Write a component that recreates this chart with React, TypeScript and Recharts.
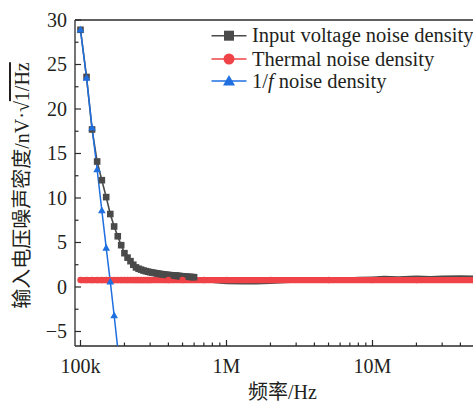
import { LineChart, Line, XAxis, YAxis, ReferenceLine, Legend, Label } from 'recharts';

const FONT = '"Liberation Serif", "Times New Roman", "Noto Sans CJK SC", serif';
const INK = '#231f20';
const AXIS = '#2a2a2a';
const GRAY = '#4a4a4a';
const RED = '#ef4347';
const BLUE = '#1f6fe0';

// axis ticks
const xMajorTicks = [1e5, 1e6, 1e7];
const xMinorTicks = [
  2e5, 3e5, 4e5, 5e5, 6e5, 7e5, 8e5, 9e5,
  2e6, 3e6, 4e6, 5e6, 6e6, 7e6, 8e6, 9e6,
  2e7, 3e7, 4e7,
];
const xTickLabels = ['100k', '1M', '10M'];
const yMajorTicks = [-5, 0, 5, 10, 15, 20, 25, 30];
const yMinorTicks = [-2.5, 2.5, 7.5, 12.5, 17.5, 22.5, 27.5];

// Input voltage noise density (nV/sqrt(Hz))
const inputFreq = [
  1e5, 1.1e5, 1.2e5, 1.3e5, 1.4e5, 1.5e5, 1.6e5, 1.7e5, 1.8e5, 1.9e5, 2e5,
  2.1e5, 2.2e5, 2.3e5, 2.4e5, 2.5e5, 2.6e5, 2.7e5, 2.8e5, 2.9e5, 3e5,
  3.1e5, 3.2e5, 3.3e5, 3.4e5, 3.5e5, 3.6e5, 3.7e5, 3.8e5, 3.9e5, 4e5,
  4.1e5, 4.2e5, 4.3e5, 4.4e5, 4.5e5, 4.6e5, 4.7e5, 4.8e5, 4.9e5, 5e5,
  5.2e5, 5.4e5, 5.6e5, 5.8e5, 6e5,
  6.5e5, 7e5, 8e5, 9e5, 1e6, 1.3e6, 1.6e6, 2e6, 2.5e6, 3e6, 4e6, 5e6,
  6e6, 7e6, 8e6, 1e7, 1.2e7, 1.5e7, 2e7, 2.5e7, 3e7, 4e7, 5e7,
];
const inputNoise = [
  28.9, 23.6, 17.7, 14.1, 12.0, 10.1, 8.2, 6.8, 5.7, 4.7, 3.8,
  3.3, 2.9, 2.5, 2.2, 2.05, 1.95, 1.85, 1.78, 1.72, 1.66,
  1.62, 1.58, 1.54, 1.5, 1.47, 1.44, 1.41, 1.38, 1.36, 1.34,
  1.33, 1.31, 1.3, 1.28, 1.27, 1.25, 1.24, 1.22, 1.21, 1.2,
  1.18, 1.16, 1.14, 1.12, 1.1,
  0.95, 0.75, 0.55, 0.45, 0.4, 0.38, 0.38, 0.42, 0.5, 0.58, 0.72, 0.85,
  0.95, 1.0, 1.05, 1.1, 1.16, 1.12, 1.19, 1.15, 1.2, 1.22, 1.2,
];

// Thermal noise density
const thermalFreq = [
  1e5, 1.1e5, 1.2e5, 1.3e5, 1.4e5, 1.5e5, 1.6e5, 1.7e5, 1.8e5, 1.9e5, 2e5,
  2.1e5, 2.2e5, 2.3e5, 2.4e5, 2.5e5, 2.6e5, 2.7e5, 2.8e5, 2.9e5, 3e5,
  4e5, 5e5, 7e5, 1e6, 2e6, 5e6, 1e7, 2e7, 5e7,
];
const thermalNoise = [
  0.78, 0.78, 0.78, 0.78, 0.78, 0.78, 0.78, 0.78, 0.78, 0.78, 0.78,
  0.78, 0.78, 0.78, 0.78, 0.78, 0.78, 0.78, 0.78, 0.78, 0.78,
  0.78, 0.78, 0.78, 0.78, 0.78, 0.78, 0.78, 0.78, 0.78,
];

// 1/f noise density
const flickerFreq = [1e5, 1.1e5, 1.2e5, 1.3e5, 1.4e5, 1.5e5, 1.6e5, 1.7e5, 1.8e5, 1.9e5];
const flickerNoise = [28.9, 23.5, 17.9, 13.2, 8.6, 4.4, 0.6, -3.2, -6.9, -10.3];

const seriesNames = ['Input voltage noise density', 'Thermal noise density', '1/f noise density'];

const toRows = (fs: number[], vs: number[]) => fs.map((f, i) => ({ f, v: vs[i] }));
const inputData = toRows(inputFreq, inputNoise);
const thermalData = toRows(thermalFreq, thermalNoise);
const flickerData = toRows(flickerFreq, flickerNoise);

const textStyle = { fontFamily: FONT, fontSize: 20, fill: INK };

function XTick({ x, y, payload }: any) {
  const idx = xMajorTicks.indexOf(payload.value);
  const major = idx >= 0;
  return (
    <g>
      <line x1={x} x2={x} y1={y} y2={y - (major ? 6 : 3.5)} stroke={AXIS} strokeWidth={1.2} />
      {major && (
        <text x={x} y={y + 27} textAnchor="middle" style={textStyle}>
          {xTickLabels[idx]}
        </text>
      )}
    </g>
  );
}

function YTick({ x, y, payload }: any) {
  const major = yMajorTicks.includes(payload.value);
  return (
    <g>
      <line x1={x} x2={x + (major ? 6 : 3.5)} y1={y} y2={y} stroke={AXIS} strokeWidth={1.2} />
      {major && (
        <text x={x - 8} y={y + 7} textAnchor="end" style={textStyle}>
          {payload.value < 0 ? `\u2212${-payload.value}` : payload.value}
        </text>
      )}
    </g>
  );
}

function squareDot(props: any) {
  const { cx, cy, index, payload } = props;
  if (payload.f > 6e5 || cx == null) return <g key={`sq-${index}`} />;
  return <rect key={`sq-${index}`} x={cx - 3.3} y={cy - 3.3} width={6.6} height={6.6} fill={GRAY} />;
}

function circleDot(props: any) {
  const { cx, cy, index } = props;
  return <circle key={`ci-${index}`} cx={cx} cy={cy} r={3.2} fill={RED} />;
}

function triangleDot(props: any) {
  const { cx, cy, index } = props;
  return (
    <path
      key={`tr-${index}`}
      d={`M${cx},${cy - 4} L${cx + 3.8},${cy + 2.8} L${cx - 3.8},${cy + 2.8} Z`}
      fill={BLUE}
    />
  );
}

function LegendMarker({ i, cx, cy }: { i: number; cx: number; cy: number }) {
  if (i === 0) return <rect x={cx - 5} y={cy - 5} width={10} height={10} fill={GRAY} />;
  if (i === 1) return <circle cx={cx} cy={cy} r={5.5} fill={RED} />;
  return <path d={`M${cx},${cy - 6} L${cx + 6},${cy + 4.5} L${cx - 6},${cy + 4.5} Z`} fill={BLUE} />;
}

function NoiseLegend() {
  const colors = [GRAY, RED, BLUE];
  const rows = [35.7, 59, 81];
  return (
    <svg width={473} height={100} style={{ display: 'block' }}>
      {rows.map((cy, i) => (
        <g key={i}>
          <line x1={211.5} x2={246.5} y1={cy} y2={cy} stroke={colors[i]} strokeWidth={1.5} />
          <LegendMarker i={i} cx={229} cy={cy} />
          <text x={252} y={cy + 6.5} style={{ ...textStyle, fontSize: 20.5 }}>
            {i === 2 ? (
              <>
                1/<tspan fontStyle="italic">f</tspan> noise density
              </>
            ) : (
              seriesNames[i]
            )}
          </text>
        </g>
      ))}
    </svg>
  );
}

function YTitle() {
  return (
    <text transform="translate(29,185.5) rotate(-90)" textAnchor="middle" style={textStyle}>
      输入电压噪声密度/nV·√<tspan style={{ textDecoration: 'overline' }}>1/Hz</tspan>
    </text>
  );
}

function XTitle() {
  return (
    <text x={282.5} y={399} textAnchor="middle" style={textStyle}>
      频率/Hz
    </text>
  );
}

export default function App() {
  return (
    <div style={{ position: 'fixed', left: 0, top: 0, width: 473, height: 401, background: '#fff' }}>
      <LineChart width={473} height={401} margin={{ top: 20, right: 0, bottom: 0, left: 0 }}>
        <XAxis
          dataKey="f"
          type="number"
          scale="log"
          domain={[91700, 48800000]}
          allowDataOverflow
          ticks={[...xMajorTicks, ...xMinorTicks]}
          interval={0}
          tick={(p: any) => <XTick {...p} />}
          tickLine={false}
          tickSize={0}
          tickMargin={0}
          height={55}
          axisLine={{ stroke: AXIS, strokeWidth: 1.3 }}
        >
          <Label content={() => <XTitle />} />
        </XAxis>
        <YAxis
          type="number"
          domain={[-6.63, 30]}
          allowDataOverflow
          ticks={[...yMajorTicks, ...yMinorTicks]}
          interval={0}
          tick={(p: any) => <YTick {...p} />}
          tickLine={false}
          tickSize={0}
          tickMargin={0}
          width={75}
          axisLine={{ stroke: AXIS, strokeWidth: 1.3 }}
        >
          <Label content={() => <YTitle />} />
        </YAxis>
        <ReferenceLine y={30} stroke={AXIS} strokeWidth={1.3} />
        <Legend
          layout="vertical"
          align="center"
          verticalAlign="middle"
          wrapperStyle={{ position: 'absolute', left: 0, top: 0, width: 473, height: 100 }}
          content={() => <NoiseLegend />}
        />
        <Line
          data={inputData}
          dataKey="v"
          name={seriesNames[0]}
          stroke={GRAY}
          strokeWidth={1.6}
          dot={squareDot}
          activeDot={false}
          isAnimationActive={false}
        />
        <Line
          data={thermalData}
          dataKey="v"
          name={seriesNames[1]}
          stroke={RED}
          strokeWidth={6.2}
          dot={circleDot}
          activeDot={false}
          isAnimationActive={false}
        />
        <Line
          data={flickerData}
          dataKey="v"
          name={seriesNames[2]}
          stroke={BLUE}
          strokeWidth={1.5}
          dot={triangleDot}
          activeDot={false}
          isAnimationActive={false}
        />
      </LineChart>
    </div>
  );
}
